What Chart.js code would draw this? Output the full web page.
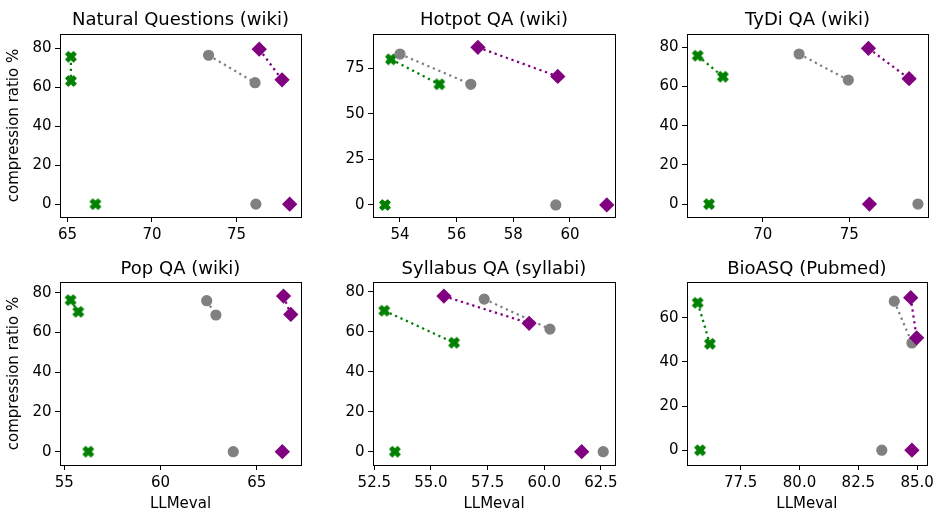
<!DOCTYPE html>
<html>
<head>
<meta charset="utf-8">
<script src="https://cdn.jsdelivr.net/npm/chart.js@4/dist/chart.umd.min.js"></script>
<style>
  html, body { margin: 0; padding: 0; background: #fff; }
  #wrap { position: relative; width: 938px; height: 516px; overflow: hidden; background: #fff; }
  #wrap canvas { position: absolute; }
</style>
</head>
<body>
<div id="wrap"></div>
<script>
// ---- data -------------------------------------------------------------
const panelTitles = [
  'Natural Questions (wiki)', 'Hotpot QA (wiki)', 'TyDi QA (wiki)',
  'Pop QA (wiki)', 'Syllabus QA (syllabi)', 'BioASQ (Pubmed)'
];

// Per panel: [compressed A, compressed B, uncompressed]; A and B are joined
// by a dotted line, the uncompressed run sits at 0 % compression.
const greenLLMeval  = [[65.2, 65.2, 66.65], [53.68, 55.39, 53.47], [66.25, 67.7, 66.9], [55.33, 55.73, 56.25], [52.94, 56.02, 53.41], [75.67, 76.19, 75.77]];
const greenRatio    = [[75.6, 63.2, 0], [79.9, 66.2, 0], [75.7, 65.0, 0], [76.3, 70.4, 0], [70.5, 54.5, 0], [66.8, 48.2, 0]];
const grayLLMeval   = [[73.35, 76.1, 76.15], [54.0, 56.5, 59.5], [72.1, 74.94, 78.96], [62.4, 62.88, 63.78], [57.35, 60.25, 62.6], [84.03, 84.78, 83.5]];
const grayRatio     = [[76.4, 62.3, 0], [82.8, 66.2, 0], [76.6, 63.3, 0], [76.0, 68.8, 0], [76.3, 61.3, 0], [67.5, 48.6, 0]];
const purpleLLMeval = [[76.35, 77.7, 78.15], [56.75, 59.57, 61.3], [76.1, 78.45, 76.16], [66.39, 66.77, 66.33], [55.57, 59.33, 61.65], [84.73, 84.98, 84.78]];
const purpleRatio   = [[79.5, 63.8, 0], [86.5, 70.5, 0], [79.5, 64.0, 0], [78.3, 69.1, 0], [77.8, 64.2, 0], [69.1, 50.9, 0]];

const xTickLabels = [
  ['65', '70', '75'], ['54', '56', '58', '60'], ['70', '75'],
  ['55', '60', '65'], ['52.5', '55.0', '57.5', '60.0', '62.5'], ['77.5', '80.0', '82.5', '85.0']
];
const yTickLabels = [
  ['0', '20', '40', '60', '80'], ['0', '25', '50', '75'], ['0', '20', '40', '60', '80'],
  ['0', '20', '40', '60', '80'], ['0', '20', '40', '60', '80'], ['0', '20', '40', '60']
];
const xLimits = [[64.556, 78.82], [53.047, 61.59], [65.63, 79.54], [54.78, 67.30], [52.443, 63.12], [75.216, 85.41]];
const yLimits = [[-6.6, 87.3], [-6.6, 93.8], [-6.6, 86.8], [-6.7, 85.4], [-6.65, 84.85], [-6.7, 76.2]];

const xAxisTitle = 'LLMeval';
const yAxisTitle = 'compression ratio %';

// ---- layout -----------------------------------------------------------
const cols = [
  { cl: 0,   cr: 312, bl: 60,  br: 301 },
  { cl: 312, cr: 626, bl: 373, br: 615 },
  { cl: 626, cr: 938, bl: 687, br: 928 }
];
const rows = [
  { ct: 0,   cb: 250, bt: 34,  bb: 217, titleBase: 25.3 },
  { ct: 250, cb: 516, bt: 282, bb: 465, titleBase: 274 }
];
const TITLE_SIZE = 18, TICK_SIZE = 15;
const FONT = "'DejaVu Sans', sans-serif";

const GREEN = '#008000', GRAY = '#808080', PURPLE = '#800080';

Chart.defaults.font.family = FONT;
Chart.defaults.color = '#000';

// filled "X" marker
function makeXMarker(color) {
  const c = document.createElement('canvas');
  c.width = 14; c.height = 14;
  const g = c.getContext('2d');
  const u = 2.6;
  const pts = [[-1,-2],[0,-1],[1,-2],[2,-1],[1,0],[2,1],[1,2],[0,1],[-1,2],[-2,1],[-1,0],[-2,-1]];
  g.beginPath();
  pts.forEach(([px, py], i) => {
    const X = 7 + px * u, Y = 7 + py * u;
    if (i) g.lineTo(X, Y); else g.moveTo(X, Y);
  });
  g.closePath();
  g.fillStyle = color; g.fill();
  g.lineWidth = 1.2; g.strokeStyle = color; g.lineJoin = 'round'; g.stroke();
  return c;
}
const xMarker = makeXMarker(GREEN);

// full rectangular frame around each plot area
const framePlugin = {
  id: 'frame',
  afterDatasetsDraw(chart) {
    const { ctx, chartArea: a } = chart;
    ctx.save();
    ctx.strokeStyle = '#000';
    ctx.lineWidth = 1;
    const l = Math.round(a.left) + 0.5, t = Math.round(a.top) + 0.5;
    const r = Math.round(a.right) + 0.5, b = Math.round(a.bottom) + 0.5;
    ctx.strokeRect(l, t, r - l, b - t);
    ctx.restore();
  }
};

// panel title, centred over the plot area
const panelTitlePlugin = {
  id: 'panelTitle',
  afterDraw(chart, args, opts) {
    const { ctx, chartArea: a } = chart;
    ctx.save();
    ctx.font = TITLE_SIZE + 'px ' + FONT;
    ctx.fillStyle = '#000';
    ctx.textAlign = 'center';
    ctx.textBaseline = 'alphabetic';
    ctx.fillText(opts.text, (a.left + a.right) / 2, opts.baseline);
    ctx.restore();
  }
};

function seriesSets(xs, ys, color, style, radius, order) {
  const common = {
    pointStyle: style, pointRadius: radius, pointHoverRadius: radius,
    pointBackgroundColor: color, pointBorderColor: color, pointBorderWidth: 1.2,
    borderColor: color, backgroundColor: color, order
  };
  return [
    Object.assign({}, common, {
      data: [{ x: xs[0], y: ys[0] }, { x: xs[1], y: ys[1] }],
      showLine: true, borderWidth: 2.25, borderDash: [2.25, 3.7]
    }),
    Object.assign({}, common, {
      data: [{ x: xs[2], y: ys[2] }],
      showLine: false
    })
  ];
}

function tickSetter(labels) {
  return scale => { scale.ticks = labels.map(s => ({ value: parseFloat(s) })); };
}
function tickFormatter(labels) {
  return value => {
    const hit = labels.find(s => Math.abs(parseFloat(s) - value) < 1e-9);
    return hit !== undefined ? hit : '';
  };
}

const wrap = document.getElementById('wrap');

panelTitles.forEach((title, i) => {
  const col = cols[i % 3], row = rows[Math.floor(i / 3)];
  const isLeft = i % 3 === 0, isBottom = i >= 3;

  const canvas = document.createElement('canvas');
  const w = col.cr - col.cl, h = row.cb - row.ct;
  canvas.width = w; canvas.height = h;
  canvas.style.left = col.cl + 'px';
  canvas.style.top = row.ct + 'px';
  canvas.style.width = w + 'px';
  canvas.style.height = h + 'px';
  wrap.appendChild(canvas);

  const yAxisWidth = col.bl - col.cl;
  const xAxisHeight = row.cb - row.bb;

  const datasets = [].concat(
    seriesSets(purpleLLMeval[i], purpleRatio[i], PURPLE, 'rectRot', 6.8, 0),
    seriesSets(grayLLMeval[i], grayRatio[i], GRAY, 'circle', 5, 1),
    seriesSets(greenLLMeval[i], greenRatio[i], GREEN, xMarker, 6, 2)
  );

  new Chart(canvas, {
    type: 'scatter',
    data: { datasets },
    options: {
      responsive: false,
      animation: false,
      devicePixelRatio: 1,
      layout: { padding: { left: 0, right: col.cr - col.br, top: row.bt - row.ct, bottom: 0 } },
      plugins: {
        legend: { display: false },
        tooltip: { enabled: false },
        title: { display: false },
        panelTitle: { text: title, baseline: row.titleBase - row.ct }
      },
      scales: {
        x: {
          type: 'linear', position: 'bottom',
          min: xLimits[i][0], max: xLimits[i][1],
          afterBuildTicks: tickSetter(xTickLabels[i]),
          afterFit: s => { s.height = xAxisHeight; },
          ticks: {
            autoSkip: false, maxRotation: 0, padding: 3.8, color: '#000',
            font: { size: TICK_SIZE }, callback: tickFormatter(xTickLabels[i])
          },
          grid: { drawOnChartArea: false, drawTicks: true, tickLength: 5, color: '#000', tickColor: '#000', lineWidth: 1 },
          border: { display: false },
          title: {
            display: isBottom, text: xAxisTitle, color: '#000',
            font: { size: TICK_SIZE }, padding: { top: 0, bottom: 3.2 }
          }
        },
        y: {
          type: 'linear', position: 'left',
          min: yLimits[i][0], max: yLimits[i][1],
          afterBuildTicks: tickSetter(yTickLabels[i]),
          afterFit: s => { s.width = yAxisWidth; },
          ticks: {
            autoSkip: false, padding: 3.5, color: '#000',
            font: { size: TICK_SIZE }, callback: tickFormatter(yTickLabels[i])
          },
          grid: { drawOnChartArea: false, drawTicks: true, tickLength: 5, color: '#000', tickColor: '#000', lineWidth: 1 },
          border: { display: false },
          title: {
            display: isLeft, text: yAxisTitle, color: '#000',
            font: { size: TICK_SIZE }, padding: { top: 4.9, bottom: 0 }
          }
        }
      }
    },
    plugins: [framePlugin, panelTitlePlugin]
  });
});
</script>
</body>
</html>
